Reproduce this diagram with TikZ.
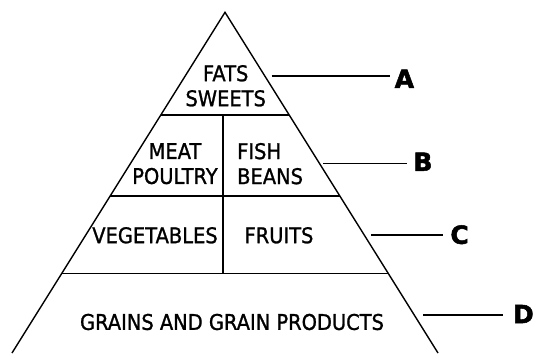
\documentclass[tikz,border=0pt]{standalone}
\usepackage{fontspec}
\setmainfont{DejaVu Sans}[FakeStretch=0.9, FakeBold=1.2]
\newfontfamily\tagfont{DejaVu Sans Bold}[FakeBold=2]
\usetikzlibrary{calc}
\tikzset{
  food/.style={font=\fontsize{21.6}{25}\selectfont, inner sep=0pt, align=center},
  tag/.style={font=\tagfont\fontsize{25}{29}\selectfont, anchor=west, inner ysep=0pt},
  rim/.style={line width=1.4pt},
  pointer/.style={line width=1.2pt},
}
\begin{document}
\begin{tikzpicture}[x=1pt, y=-1pt]
  \useasboundingbox (0,0) rectangle (534,353);
  % pyramid outline
  \coordinate (apex) at (225,12.3);
  \coordinate (bl) at (12,353);
  \coordinate (br) at (438,353);
  \draw[rim] (bl) -- (apex) -- (br);
  % layers
  \draw[rim] ($(apex)!0.3014!(bl)$) -- ($(apex)!0.3014!(br)$);
  \draw[rim] ($(apex)!0.5392!(bl)$) -- ($(apex)!0.5392!(br)$);
  \draw[rim] ($(apex)!0.7661!(bl)$) -- ($(apex)!0.7661!(br)$);
  \draw[rim] (223,115) -- (223,273.3);
  % food groups
  \node[food] (fats) at (225.7,85.8) {FATS\\SWEETS};
  \node[food] (meat) at (175,163.7) {MEAT\\POULTRY};
  \node[food, align=left, anchor=west] (fish) at (237,163.7) {FISH\\BEANS};
  \node[food] (veg) at (155,235.3) {VEGETABLES};
  \node[food] (fruit) at (279,235.3) {FRUITS};
  \node[food] (grain) at (232,322) {GRAINS AND GRAIN PRODUCTS};
  % labels
  \node[tag, inner xsep=4.5pt] (A) at (390,78.7) {A};
  \node[tag, inner xsep=6.5pt] (B) at (406.7,161.7) {B};
  \node[tag, inner xsep=7.5pt] (C) at (442.7,234.7) {C};
  \node[tag, inner xsep=9.5pt] (D) at (503.3,314) {D};
  \coordinate (a1) at (271.7,76);
  \coordinate (b1) at (323.3,163.3);
  \coordinate (c1) at (371,235);
  \coordinate (d1) at (423.3,315);
  \draw[pointer] (a1) -- (a1 -| A.west);
  \draw[pointer] (b1) -- (b1 -| B.west);
  \draw[pointer] (c1) -- (c1 -| C.west);
  \draw[pointer] (d1) -- (d1 -| D.west);
\end{tikzpicture}
\end{document}
